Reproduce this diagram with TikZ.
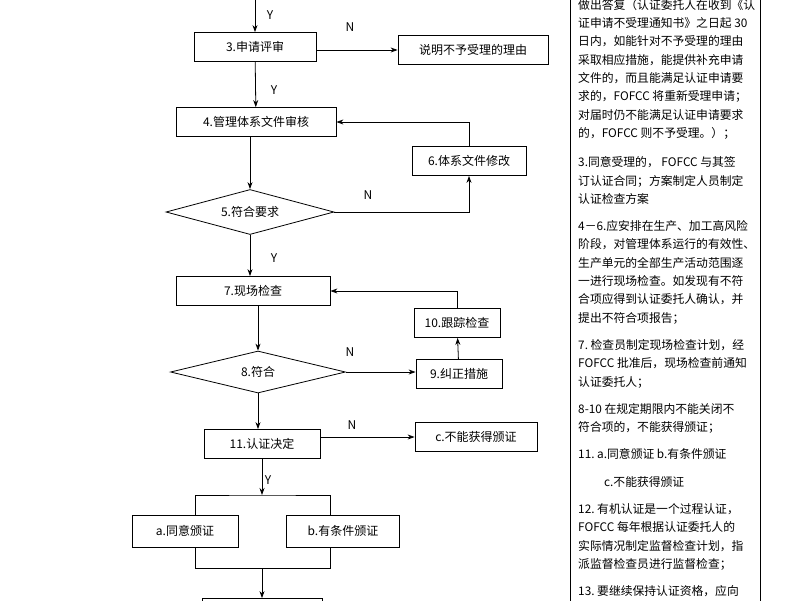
\documentclass[tikz,border=0pt]{standalone}
\usepackage{fontspec}
\setmainfont{Noto Sans CJK SC}
\usetikzlibrary{shapes.geometric,positioning,arrows.meta}
\tikzset{
	box/.style={draw, thick, minimum height=29pt, font=\fontsize{12}{14}\selectfont, inner sep=2pt},
	dec/.style={draw, thick, diamond, aspect=3.8, inner sep=1pt, font=\fontsize{12}{14}\selectfont},
	arr/.style={thick, -{Stealth[length=7pt,width=5pt]}},
	lab/.style={font=\fontsize{12}{14}\selectfont}
}
\begin{document}
\begin{tikzpicture}[x=1pt, y=-1pt]
	\useasboundingbox (0,0) rectangle (800,600);
	\clip (0,0) rectangle (800,600);
	\fill[white] (0,0) rectangle (800,600);
	% flow boxes
	\node[box, minimum width=122pt] (apply) at (255,47) {3.申请评审};
	\node[box, minimum width=150pt] (reason) at (473,50) {说明不予受理的理由};
	\node[box, minimum width=160pt] (docs) at (256,122) {4.管理体系文件审核};
	\node[box, minimum width=114pt] (fix) at (469,161) {6.体系文件修改};
	\node[dec, minimum width=168pt, minimum height=45pt] (req) at (250,212) {5.符合要求};
	\node[box, minimum width=154pt] (site) at (253,291) {7.现场检查};
	\node[box, minimum width=86pt] (track) at (457,323) {10.跟踪检查};
	\node[dec, minimum width=175pt, minimum height=42pt] (ok) at (258,372) {8.符合};
	\node[box, minimum width=86pt] (correct) at (459,374) {9.纠正措施};
	\node[box, minimum width=116pt] (decide) at (262,444) {11.认证决定};
	\node[box, minimum width=122pt] (nocert) at (476,437) {c.不能获得颁证};
	\node[box, minimum width=106pt, minimum height=32pt] (agree) at (185,531) {a.同意颁证};
	\node[box, minimum width=113pt, minimum height=32pt] (cond) at (343,531) {b.有条件颁证};
	\node[box, minimum width=120pt] (next) at (262,613) {};
	\coordinate (top) at (255,-5);
	\coordinate (split) at (262,495);
	\coordinate (join) at (262,568);
	% connectors
	\draw[arr] (top) -- (apply);
	\draw[arr] (apply.east |- reason) -- (reason.west);
	\draw[arr] (apply) -- (docs);
	\draw[arr] (docs.south -| req.north) -- (req);
	\draw[arr] (req.east) -| (fix.south);
	\draw[arr] (fix.north) |- (docs.east);
	\draw[arr] (req) -- (site.north -| req.south);
	\draw[arr] (site.south -| ok.north) -- (ok);
	\draw[arr] (ok.east) -- (ok.east -| correct.west);
	\draw[arr] (correct) -- (track);
	\draw[arr] (track.north) |- (site.east);
	\draw[arr] (ok.south) -- (decide.north -| ok.south);
	\draw[arr] (decide.east |- nocert) -- (nocert.west);
	\draw[arr] (decide) -- (split);
	\draw[thick] (agree.north -| 195,0) |- (split) -| (cond.north -| 330,0);
	\draw[thick] (agree.south -| 195,0) |- (join) -| (cond.south -| 330,0);
	\draw[arr] (join) -- (next);
	% Y / N labels
	\node[lab] at (270,15) {Y};
	\node[lab] at (350,27) {N};
	\node[lab] at (274,90) {Y};
	\node[lab] at (368,195) {N};
	\node[lab] at (274,258) {Y};
	\node[lab] at (350,352) {N};
	\node[lab] at (352,425) {N};
	\node[lab] at (268,480) {Y};
	% notes column
	\draw[thick] (570,-5) rectangle (760,605);
	\node[anchor=north west, align=left, inner sep=0pt, font=\fontsize{11.8}{18.3}\selectfont] (notes) at (578,-1) {%
		做出答复（认证委托人在收到《认\\
		证申请不受理通知书》之日起 30\\
		日内，如能针对不予受理的理由\\
		采取相应措施，能提供补充申请\\
		文件的，而且能满足认证申请要\\
		求的，FOFCC 将重新受理申请；\\
		对届时仍不能满足认证申请要求\\
		的，FOFCC 则不予受理。）；\\[11pt]
		3.同意受理的，\ FOFCC 与其签\\
		订认证合同；方案制定人员制定\\
		认证检查方案\\[9pt]
		4－6.应安排在生产、加工高风险\\
		阶段，对管理体系运行的有效性、\\
		生产单元的全部生产活动范围逐\\
		一进行现场检查。如发现有不符\\
		合项应得到认证委托人确认，并\\
		提出不符合项报告；\\[9pt]
		7.\ 检查员制定现场检查计划，经\\
		FOFCC 批准后，现场检查前通知\\
		认证委托人；\\[9pt]
		8-10\ 在规定期限内不能关闭不\\
		符合项的，不能获得颁证；\\[9pt]
		11.\ a.同意颁证 b.有条件颁证\\[9pt]
		\hspace{2.2em}c.不能获得颁证\\[9pt]
		12.\ 有机认证是一个过程认证，\\
		FOFCC 每年根据认证委托人的\\
		实际情况制定监督检查计划，指\\
		派监督检查员进行监督检查；\\[9pt]
		13.\ 要继续保持认证资格，应向};
\end{tikzpicture}
\end{document}
